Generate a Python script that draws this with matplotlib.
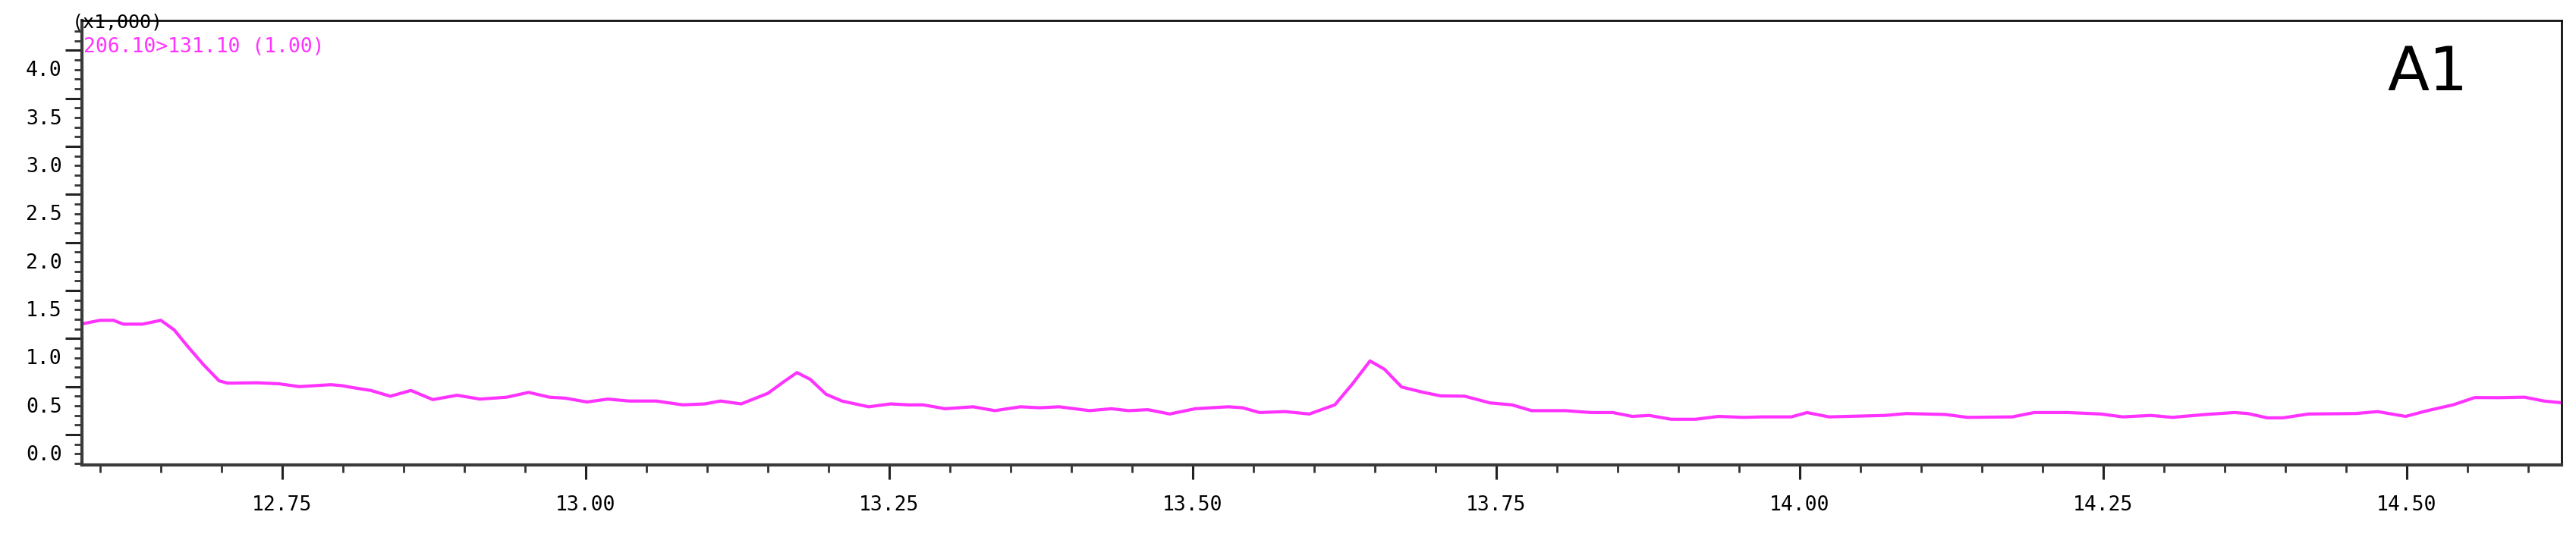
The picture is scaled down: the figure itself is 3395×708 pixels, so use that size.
import matplotlib
matplotlib.use("Agg")
import matplotlib.pyplot as plt
import matplotlib.transforms as mtransforms
import numpy as np

# retention time (min) and intensity (x1,000)
rt = [12.584, 12.600, 12.611, 12.619, 12.635, 12.650, 12.661, 12.672, 12.685, 12.698,
      12.705, 12.729, 12.747, 12.764, 12.790, 12.799, 12.808, 12.823, 12.839, 12.856,
      12.874, 12.894, 12.913, 12.935, 12.953, 12.970, 12.983, 13.001, 13.018, 13.036,
      13.058, 13.080, 13.098, 13.111, 13.128, 13.150, 13.163, 13.174, 13.185, 13.198,
      13.211, 13.233, 13.251, 13.266, 13.278, 13.296, 13.319, 13.337, 13.358, 13.374,
      13.390, 13.415, 13.433, 13.447, 13.463, 13.481, 13.502, 13.529, 13.541, 13.555,
      13.576, 13.596, 13.617, 13.631, 13.646, 13.658, 13.672, 13.690, 13.704, 13.724,
      13.745, 13.763, 13.779, 13.807, 13.828, 13.846, 13.862, 13.876, 13.894, 13.914,
      13.933, 13.954, 13.969, 13.993, 14.006, 14.024, 14.070, 14.088, 14.120, 14.138,
      14.175, 14.193, 14.221, 14.248, 14.266, 14.289, 14.307, 14.334, 14.358, 14.369,
      14.385, 14.398, 14.419, 14.458, 14.476, 14.499, 14.517, 14.538, 14.556, 14.576,
      14.597, 14.613, 14.629]
intensity = [1.34, 1.38, 1.38, 1.34, 1.34, 1.38, 1.28, 1.11, 0.92, 0.75,
             0.726, 0.73, 0.72, 0.69, 0.71, 0.70, 0.68, 0.65, 0.59, 0.65,
             0.555, 0.60, 0.56, 0.58, 0.63, 0.58, 0.57, 0.53, 0.56, 0.54,
             0.54, 0.50, 0.51, 0.54, 0.51, 0.62, 0.74, 0.836, 0.765, 0.61,
             0.54, 0.48, 0.51, 0.50, 0.50, 0.46, 0.48, 0.44, 0.48, 0.47,
             0.48, 0.44, 0.46, 0.44, 0.45, 0.405, 0.46, 0.48, 0.47, 0.42,
             0.43, 0.405, 0.50, 0.71, 0.957, 0.87, 0.686, 0.63, 0.594, 0.59,
             0.52, 0.50, 0.44, 0.44, 0.42, 0.42, 0.38, 0.39, 0.35, 0.35,
             0.38, 0.37, 0.375, 0.375, 0.42, 0.375, 0.39, 0.41, 0.40, 0.37,
             0.375, 0.42, 0.42, 0.405, 0.375, 0.39, 0.37, 0.40, 0.42, 0.41,
             0.365, 0.365, 0.405, 0.41, 0.43, 0.38, 0.44, 0.50, 0.576, 0.575,
             0.58, 0.54, 0.52]

x_ticks = [12.75, 13.00, 13.25, 13.50, 13.75, 14.00, 14.25, 14.50]
x_labels = ["12.75", "13.00", "13.25", "13.50", "13.75", "14.00", "14.25", "14.50"]
y_ticks = [0.0, 0.5, 1.0, 1.5, 2.0, 2.5, 3.0, 3.5, 4.0]
y_labels = ["0.0", "0.5", "1.0", "1.5", "2.0", "2.5", "3.0", "3.5", "4.0"]

mono = "DejaVu Sans Mono"
magenta = "#ff33ff"

fig = plt.figure(figsize=(33.95, 7.08), dpi=100)
ax = fig.add_axes([0.0318, 0.1342, 0.9626, 0.8277])

ax.plot(rt, intensity, color=magenta, lw=3, solid_joinstyle="round",
        solid_capstyle="round")

ax.set_xlim(12.585, 14.6275)
ax.set_ylim(-0.125, 4.5)

# x axis ticks
ax.set_xticks(x_ticks)
ax.set_xticklabels(x_labels, fontfamily=mono, fontsize=19)
ax.set_xticks(np.arange(12.60, 14.63, 0.05), minor=True)
ax.tick_params(axis="x", which="major", direction="out", length=14, width=2.2,
               color="#222222", pad=15)
ax.tick_params(axis="x", which="minor", direction="out", length=7, width=2,
               color="#333333")

# y axis: long marks sit a little above the labels, as in the original
shift = 0.19
ax.set_yticks([v + shift for v in y_ticks])
ax.set_yticklabels(y_labels, fontfamily=mono, fontsize=19)
ax.set_yticks(np.arange(-0.11, 4.45, 0.1), minor=True)
ax.tick_params(axis="y", which="major", direction="out", length=16, width=2.2,
               color="#222222", pad=3)
ax.tick_params(axis="y", which="minor", direction="out", length=7, width=2,
               color="#333333")
off = mtransforms.ScaledTranslation(0, -shift * 126.75 / 100, fig.dpi_scale_trans)
for lab in ax.get_yticklabels():
    lab.set_transform(lab.get_transform() + off)

for s in ["left", "bottom"]:
    ax.spines[s].set_linewidth(3)
    ax.spines[s].set_color("#3a3a3a")
for s in ["top", "right"]:
    ax.spines[s].set_linewidth(2)
    ax.spines[s].set_color("#111111")

ax.text(-0.004, 0.995, "(x1,000)", transform=ax.transAxes, fontfamily=mono,
        fontsize=18, color="black", ha="left", va="center")
ax.text(0.0006, 0.940, "206.10>131.10 (1.00)", transform=ax.transAxes,
        fontfamily=mono, fontsize=19, color=magenta, ha="left", va="center")
ax.text(0.946, 0.8805, "A1", transform=ax.transAxes, fontsize=58,
        color="black", ha="center", va="center")

fig.savefig("out.png", dpi=100)
